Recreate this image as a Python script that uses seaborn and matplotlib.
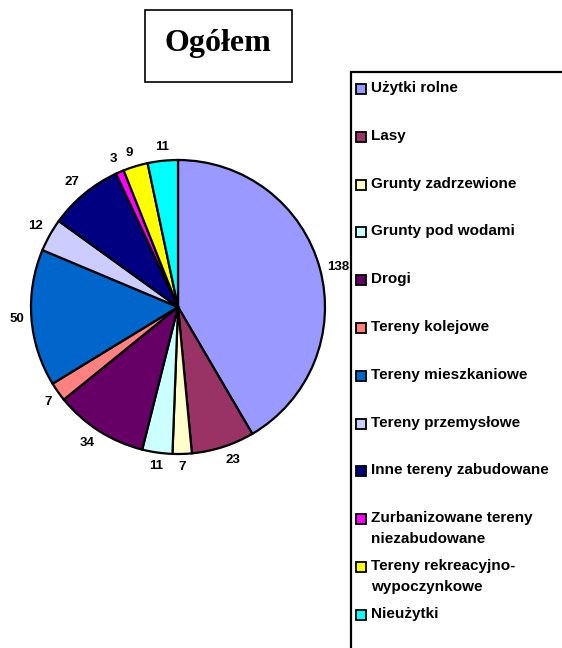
import matplotlib
matplotlib.use("Agg")
import matplotlib.pyplot as plt
import matplotlib.patches as mpatches
import numpy as np
import seaborn as sns

# Land use categories and areas
categories = [
    "Użytki rolne", "Lasy", "Grunty zadrzewione", "Grunty pod wodami",
    "Drogi", "Tereny kolejowe", "Tereny mieszkaniowe", "Tereny przemysłowe",
    "Inne tereny zabudowane", "Zurbanizowane tereny\nniezabudowane",
    "Tereny rekreacyjno-\nwypoczynkowe", "Nieużytki",
]
values = [138, 23, 7, 11, 34, 7, 50, 12, 27, 3, 9, 11]
colors = ["#9999FF", "#993366", "#FFFFCC", "#CCFFFF", "#660066", "#FF8080",
          "#0066CC", "#CCCCFF", "#000080", "#FF00FF", "#FFFF00", "#00FFFF"]
title = "Ogółem"

sns.set_style("white")
plt.rcParams["font.family"] = ["Liberation Sans", "DejaVu Sans"]
plt.rcParams["text.color"] = "black"

W, H = 562, 648
fig = plt.figure(figsize=(W / 100, H / 100), dpi=100)

# pie axes: circle from x=31..325, y=160..454 (pixels)
ax = fig.add_axes([31 / W, 1 - 454 / H, 294 / W, 294 / H])
wedges, texts = ax.pie(
    values, colors=colors, labels=[str(v) for v in values],
    startangle=90, counterclock=False, labeldistance=1.05,
    wedgeprops=dict(edgecolor="black", linewidth=1.6),
    textprops=dict(fontsize=9.5, fontweight="bold", color="black"),
)
ax.set_xlim(-1, 1)
ax.set_ylim(-1, 1)
ax.set_aspect("equal")

# Excel-like label placement: box just outside the circle
for t in texts:
    x, y = t.get_position()
    ang = np.arctan2(y, x)
    s = np.sin(ang)
    if s > 0.3:
        t.set_va("bottom")
    elif s < -0.3:
        t.set_va("top")
    else:
        t.set_va("center")
    if abs(np.cos(ang)) < 0.15:
        t.set_ha("center")

# title box
fig.patches.append(mpatches.Rectangle((145 / W, 1 - 82 / H), 147 / W, 72 / H,
                                      transform=fig.transFigure, fill=False,
                                      edgecolor="black", linewidth=1.2))
fig.text(218 / W, 1 - 44 / H, title, ha="center", va="center",
         fontsize=23, fontweight="bold", color="black",
         family=["Liberation Serif", "DejaVu Serif"])

# legend box (runs off the right and bottom edge)
fig.patches.append(mpatches.Rectangle((351 / W, -0.05), 0.5, 1 - 72 / H + 0.05,
                                      transform=fig.transFigure, fill=False,
                                      edgecolor="black", linewidth=1.6))
for i, (lab, col) in enumerate(zip(categories, colors)):
    yc = 89 + 47.8 * i
    fig.patches.append(mpatches.Rectangle((356 / W, 1 - (yc + 5) / H), 10 / W, 10 / H,
                                          transform=fig.transFigure, facecolor=col,
                                          edgecolor="black", linewidth=1.3))
    fig.text(371 / W, 1 - (yc - 8) / H, lab, ha="left", va="top",
             fontsize=11, fontweight="bold", color="black", linespacing=1.6)

fig.savefig("out.png", dpi=100, facecolor="white")
